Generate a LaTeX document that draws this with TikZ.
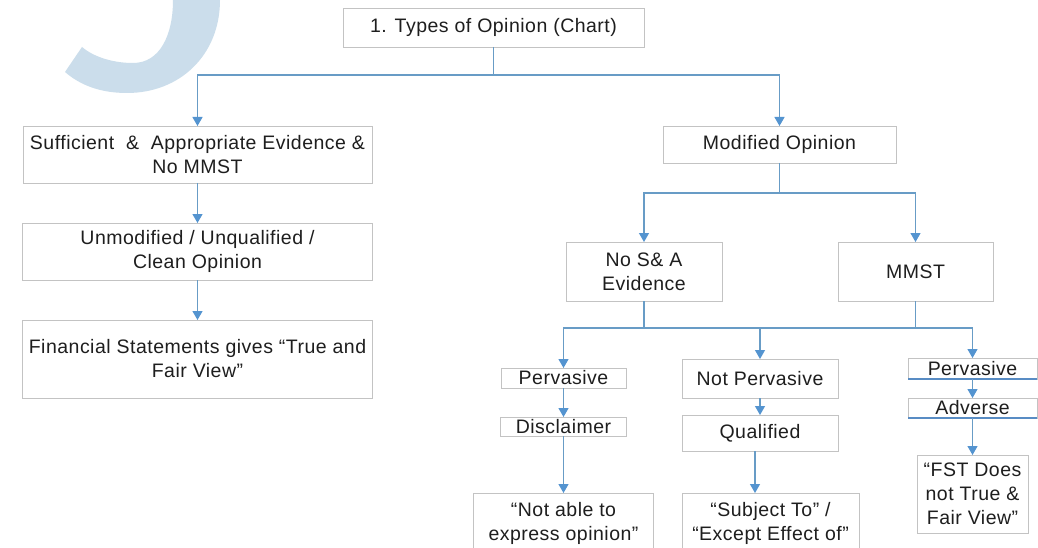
\documentclass[tikz,border=0pt]{standalone}
\usepackage{fontspec}
\setmainfont{Liberation Sans}[LetterSpace=2.5]
\usetikzlibrary{arrows.meta}
\definecolor{wmark}{RGB}{203,221,235}
\definecolor{conn}{RGB}{104,156,198}
\definecolor{tipc}{RGB}{84,148,208}
\definecolor{frame}{RGB}{195,195,195}
\definecolor{ink}{RGB}{30,30,30}
\definecolor{edgeblue}{RGB}{88,140,196}
\begin{document}
\begin{tikzpicture}[x=1pt,y=-1pt,
  box/.style={draw=frame, line width=0.9pt, fill=white, inner sep=0pt, outer sep=0pt,
              align=center, text=ink, font=\fontsize{19.5}{24}\selectfont},
  line/.style={draw=conn, line width=1.2pt},
  arr/.style={line, -{Triangle[width=10pt,length=9pt,color=tipc]}},
  underline/.style={draw=edgeblue, line width=2.6pt}]

\fill[white] (0,0) rectangle (1038,548);
\useasboundingbox (0,0) rectangle (1038,548);

% faint logo arc in the corner (a thick ring segment)
\fill[wmark] (220,0) .. controls (220,55) and (180,93) .. (127,93)
  .. controls (100,93) and (80,85) .. (65,72) -- (82,47)
  .. controls (95,58) and (115,63) .. (133,63)
  .. controls (160,63) and (173,35) .. (173,0) -- cycle;

% boxes
\node[box, minimum width=301pt, minimum height=39pt] (top) at (493.5,27.5) {1. Types of Opinion (Chart)};

\node[box, minimum width=349pt, minimum height=57pt] (suff) at (197.5,154.5) {Sufficient \ \& \ Appropriate Evidence \&\\No MMST};
\node[box, minimum width=350pt, minimum height=57pt] (unmod) at (197.5,251.5) {Unmodified / Unqualified /\\Clean Opinion};
\node[box, minimum width=350pt, minimum height=78pt] (fin) at (197.5,359) {Financial Statements gives “True and\\Fair View”};

\node[box, minimum width=233pt, minimum height=37pt] (modified) at (779.5,144.5) {Modified Opinion};
\node[box, minimum width=156pt, minimum height=59pt] (nosa) at (644,271.5) {No S\& A\\Evidence};
\node[box, minimum width=155pt, minimum height=59pt] (mmst) at (915.5,271.5) {MMST};

\node[box, minimum width=125pt, minimum height=20pt] (perv1) at (563.5,378) {Pervasive};
\node[box, minimum width=126pt, minimum height=19pt] (discl) at (563.5,426.5) {Disclaimer};
\node[box, minimum width=180pt, minimum height=60pt] (notable) at (563.5,523) {“Not able to\\express opinion”};

\node[box, minimum width=156pt, minimum height=39pt] (notperv) at (760,378.5) {Not Pervasive};
\node[box, minimum width=156pt, minimum height=36pt] (qual) at (760,433) {Qualified};
\node[box, minimum width=177pt, minimum height=60pt] (subject) at (770.5,523) {“Subject To” /\\“Except Effect of”};

\node[box, minimum width=129pt, minimum height=21pt] (perv2) at (972.5,368.5) {Pervasive};
\node[box, minimum width=129pt, minimum height=20pt] (adverse) at (972.5,408) {Adverse};
\node[box, minimum width=111pt, minimum height=78pt] (fst) at (972.5,494) {“FST Does\\not True \&\\Fair View”};

% blue lower edges of the two right-hand boxes
\draw[underline] (perv2.south west) -- (perv2.south east);
\draw[underline] (adverse.south west) -- (adverse.south east);

% junctions
\coordinate (jt) at (493.5,75);
\coordinate (jmod) at (779.5,193);
\coordinate (jn) at (644,328);
\coordinate (jm) at (915.5,328);

% connectors
\draw[line] (top.south) -- (jt);
\draw[arr] (jt) -| (suff.north);
\draw[arr] (jt) -| (modified.north);
\draw[arr] (suff.south) -- (unmod.north);
\draw[arr] (unmod.south) -- (fin.north);

\draw[line] (modified.south) -- (jmod);
\draw[arr] (jmod) -| (nosa.north);
\draw[arr] (jmod) -| (mmst.north);

\draw[line] (nosa.south) -- (jn);
\draw[line] (mmst.south) -- (jm);
\draw[line] (jn) -- (jm);
\draw[arr] (jn) -| (perv1.north);
\draw[arr] (jn) -| (notperv.north);
\draw[arr] (jm) -| (perv2.north);

\draw[arr] (perv1.south) -- (discl.north);
\draw[arr] (discl.south) -- (notable.north);
\draw[arr] (notperv.south) -- (qual.north);
\draw[arr] ([xshift=-5pt]qual.south) -- ([xshift=-5pt]qual.south |- subject.north);
\draw[arr] (perv2.south) -- (adverse.north);
\draw[arr] (adverse.south) -- (fst.north);
\end{tikzpicture}
\end{document}
